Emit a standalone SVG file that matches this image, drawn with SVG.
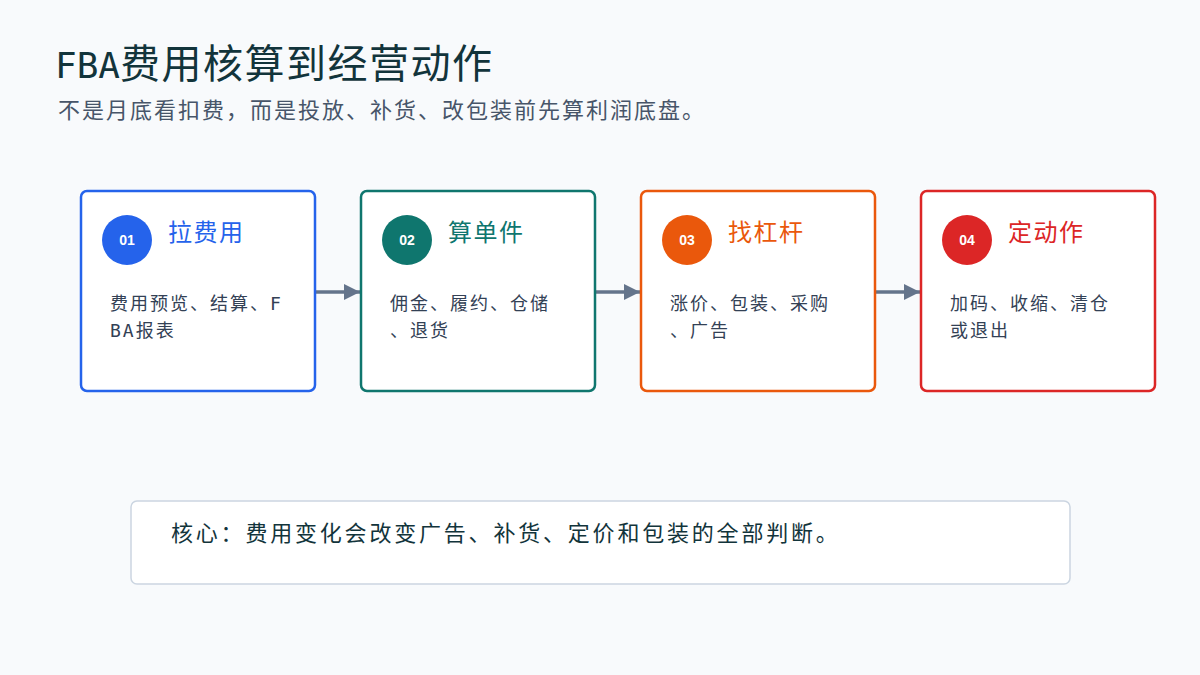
<svg xmlns="http://www.w3.org/2000/svg" width="1200" height="675" viewBox="0 0 1200 675">
<style>
.cjk{font-family:"DejaVu Sans Mono","Noto Sans CJK SC",monospace}
.card{fill:#ffffff;stroke-width:2.5}
.num{font-family:"Liberation Sans",Arial,sans-serif;font-weight:bold;font-size:14px;fill:#ffffff;text-anchor:middle}
.ttl{font-size:24px;letter-spacing:1.5px}
.body{font-size:18px;letter-spacing:2px;fill:#334155}
.conn{stroke:#64748b;stroke-width:3.5;fill:none}
</style>
<defs>
<marker id="ah" markerWidth="16" markerHeight="16" refX="16" refY="8" orient="auto" markerUnits="userSpaceOnUse" viewBox="0 0 16 16">
<path d="M0,0 L16,8 L0,16 z" fill="#64748b"/>
</marker>
</defs>
<rect width="1200" height="675" fill="#f8fafc"/>
<text class="cjk" x="55" y="78" font-size="36" fill="#12343b">FBA<tspan font-size="40" letter-spacing="1.5">费用核算到经营动作</tspan></text>
<text class="cjk" x="58" y="118" font-size="22" letter-spacing="2" fill="#475569">不是月底看扣费，而是投放、补货、改包装前先算利润底盘。</text>
<g id="connectors">
<line class="conn" x1="316" y1="292" x2="360" y2="292" marker-end="url(#ah)"/>
<line class="conn" x1="596" y1="292" x2="640" y2="292" marker-end="url(#ah)"/>
<line class="conn" x1="876" y1="292" x2="920" y2="292" marker-end="url(#ah)"/>
</g>
<g id="node1">
<rect class="card" x="81" y="191" width="234" height="200" rx="6" stroke="#2563eb"/>
<circle cx="127" cy="240" r="25" fill="#2563eb"/>
<text class="num" x="127" y="245">01</text>
<text class="cjk ttl" x="168" y="241" fill="#2563eb">拉费用</text>
<text class="cjk body" x="110" y="310">费用预览、结算、F</text>
<text class="cjk body" x="110" y="337">BA报表</text>
</g>
<g id="node2">
<rect class="card" x="361" y="191" width="234" height="200" rx="6" stroke="#0f766e"/>
<circle cx="407" cy="240" r="25" fill="#0f766e"/>
<text class="num" x="407" y="245">02</text>
<text class="cjk ttl" x="448" y="241" fill="#0f766e">算单件</text>
<text class="cjk body" x="390" y="310">佣金、履约、仓储</text>
<text class="cjk body" x="390" y="337">、退货</text>
</g>
<g id="node3">
<rect class="card" x="641" y="191" width="234" height="200" rx="6" stroke="#ea580c"/>
<circle cx="687" cy="240" r="25" fill="#ea580c"/>
<text class="num" x="687" y="245">03</text>
<text class="cjk ttl" x="728" y="241" fill="#ea580c">找杠杆</text>
<text class="cjk body" x="670" y="310">涨价、包装、采购</text>
<text class="cjk body" x="670" y="337">、广告</text>
</g>
<g id="node4">
<rect class="card" x="921" y="191" width="234" height="200" rx="6" stroke="#dc2626"/>
<circle cx="967" cy="240" r="25" fill="#dc2626"/>
<text class="num" x="967" y="245">04</text>
<text class="cjk ttl" x="1008" y="241" fill="#dc2626">定动作</text>
<text class="cjk body" x="950" y="310">加码、收缩、清仓</text>
<text class="cjk body" x="950" y="337">或退出</text>
</g>
<g id="core">
<rect x="131" y="501" width="939" height="83" rx="6" fill="#ffffff" stroke="#cbd5e1" stroke-width="1.5"/>
<text class="cjk" x="171" y="541" font-size="22" letter-spacing="2.8" fill="#12343b">核心：费用变化会改变广告、补货、定价和包装的全部判断。</text>
</g>
</svg>
